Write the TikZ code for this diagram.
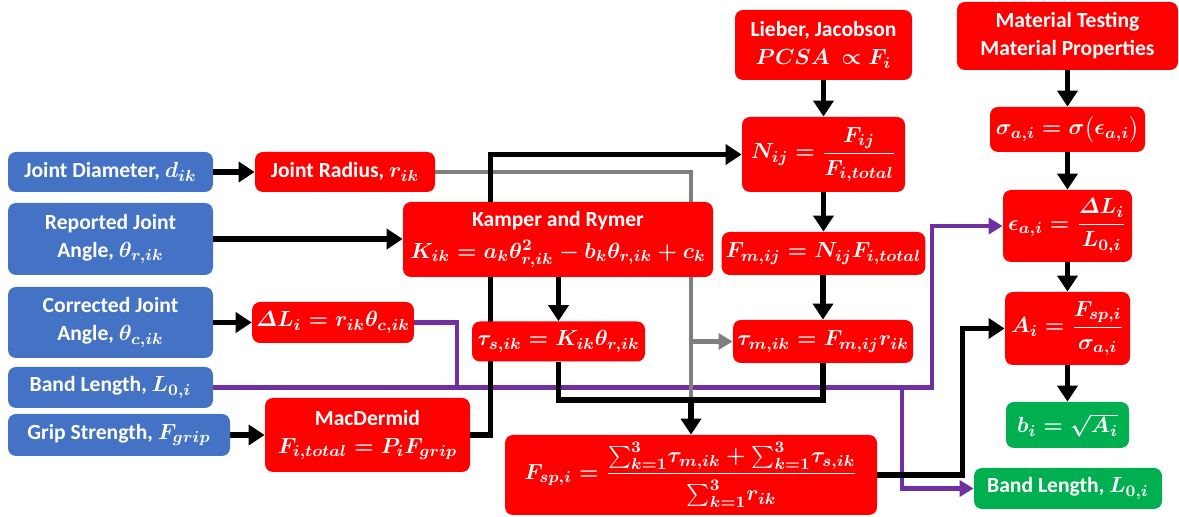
\documentclass[tikz,border=0pt]{standalone}
\usepackage{amsmath}
\usepackage{fontspec}
\newfontfamily\calibri{Carlito}
\usetikzlibrary{arrows.meta,backgrounds}

\definecolor{boxblue}{HTML}{4472C4}
\definecolor{boxred}{HTML}{FF0000}
\definecolor{boxgreen}{HTML}{00B050}
\definecolor{linepurple}{HTML}{7030A0}
\definecolor{linegray}{HTML}{7F7F7F}

\tikzset{
  flowbox/.style={rounded corners=4pt, text=white, align=center, inner sep=2pt,
    font=\calibri\bfseries\fontsize{10.8}{14}\selectfont,
    execute at begin node=\boldmath},
  inbox/.style={flowbox, fill=boxblue},
  calcbox/.style={flowbox, fill=boxred},
  outbox/.style={flowbox, fill=boxgreen},
  blkline/.style={line width=2.8pt, black},
  blkarr/.style={blkline, -{Triangle[length=8pt,width=10pt]}},
  gryline/.style={line width=2.3pt, linegray},
  gryarr/.style={gryline, -{Triangle[length=7pt,width=8pt]}},
  purline/.style={line width=2.3pt, linepurple},
  purarr/.style={purline, -{Triangle[length=7pt,width=8pt]}},
}

\begin{document}
\begin{tikzpicture}[x=0.5pt, y=-0.5pt]

        \useasboundingbox (0,0) rectangle (1179,517);

        % === Inputs (blue) ===
        \node[inbox, minimum width=102.5pt, minimum height=20pt] (jd) at (110.5,172) {Joint Diameter, $d_{ik}$};
        \node[inbox, minimum width=102.5pt, minimum height=36pt] (rja) at (110.5,239) {Reported Joint\\Angle, $\theta_{r,ik}$};
        \node[inbox, minimum width=102.5pt, minimum height=35.5pt] (cja) at (110.5,322.5) {Corrected Joint\\Angle, $\theta_{c,ik}$};
        \node[inbox, minimum width=102.5pt, minimum height=20.5pt] (bl) at (110.5,387.5) {Band Length, $L_{0,i}$};
        \node[inbox, minimum width=111pt, minimum height=21pt] (gs) at (119,435) {Grip Strength, $F_{grip}$};

        % === Joint and spring side ===
        \node[calcbox, minimum width=90pt, minimum height=20pt] (jr) at (345,172) {Joint Radius, $r_{ik}$};
        \node[calcbox, minimum width=155pt, minimum height=37.5pt] (kr) at (558,239.5)
            {Kamper and Rymer\\[2pt]$K_{ik} = a_k\theta_{r,ik}^2 - b_k\theta_{r,ik} + c_k$};
        \node[calcbox, minimum width=80pt, minimum height=20.5pt] (dl) at (333,322.5) {$\varDelta L_i = r_{ik}\theta_{c,ik}$};
        \node[calcbox, minimum width=102.5pt, minimum height=37pt] (md) at (367.5,435)
            {MacDermid\\$F_{i,total} = P_iF_{grip}$};
        \node[calcbox, minimum width=86.5pt, minimum height=20pt] (ts) at (558.5,341.5) {$\tau_{s,ik} = K_{ik}\theta_{r,ik}$};

        % === Muscle side ===
        \node[calcbox, minimum width=88.5pt, minimum height=35pt] (lj) at (823.5,45)
            {Lieber, Jacobson\\$PCSA\ \propto F_i$};
        \node[calcbox, minimum width=81.5pt, minimum height=37.5pt] (nij) at (823.5,154.5) {$N_{ij} = \dfrac{F_{ij}}{F_{i,total}}$};
        \node[calcbox, minimum width=101.5pt, minimum height=21.5pt] (fm) at (823.5,253.5) {$F_{m,ij} = N_{ij}F_{i,total}$};
        \node[calcbox, minimum width=90pt, minimum height=21.5pt] (tm) at (823,341.5) {$\tau_{m,ik} = F_{m,ij}r_{ik}$};
        \node[calcbox, minimum width=186pt, minimum height=40pt] (fsp) at (691,475)
            {$F_{sp,i} = \dfrac{\sum_{k=1}^{3}\!\tau_{m,ik} + \sum_{k=1}^{3}\!\tau_{s,ik}}{\sum_{k=1}^{3}\!r_{ik}\rule{0pt}{12pt}}$};

        % === Material side ===
        \node[calcbox, minimum width=110.5pt, minimum height=34pt] (mt) at (1067.5,36)
            {Material Testing\\Material Properties};
        \node[calcbox, minimum width=77.5pt, minimum height=22.5pt] (sig) at (1067.5,129.5) {$\sigma_{a,i} = \sigma\bigl(\epsilon_{a,i}\bigr)$};
        \node[calcbox, minimum width=64.5pt, minimum height=36pt] (eps) at (1067.5,226) {$\epsilon_{a,i} = \dfrac{\varDelta L_i}{L_{0,i}}$};
        \node[calcbox, minimum width=62.5pt, minimum height=36.5pt] (ai) at (1067.5,328.5) {$A_i = \dfrac{F_{sp,i}}{\sigma_{a,i}}$};

        % === Outputs (green) ===
        \node[outbox, minimum width=61.5pt, minimum height=23pt] (bi) at (1067.5,425) {$b_i = \sqrt{A_i}$};
        \node[outbox, minimum width=94pt, minimum height=20.5pt] (bl2) at (1068,488.5) {Band Length, $L_{0,i}$};

        % junctions
        \coordinate (sumj) at (691,400);
        \coordinate (dlj) at (457,387.5);
        \coordinate (epsj) at (932,226);
        \coordinate (blj) at (902,387.5);

        \begin{pgfonlayer}{background}
        % === Band length and stretch (purple) ===
        \draw[purarr] (bl.east) -| (epsj) -- (eps.west);
        \draw[purline] (dl.east) -| (dlj);
        \draw[purarr] (blj) |- (bl2.west);

        % === Radius (gray) ===
        \draw[gryline] (jr.east) -| (sumj);
        \draw[gryarr] (sumj |- tm.west) -- (tm.west);

        % === Black flow ===
        \draw[blkarr] (jd.east) -- (jr.west);
        \draw[blkarr] (rja.east) -- (kr.west |- rja.east);
        \draw[blkarr] (cja.east) -- (dl.west);
        \draw[blkarr] (gs.east) -- (md.west |- gs.east);
        \draw[blkarr] (md.east) -- ++(20,0) |- (nij.west);
        \draw[blkarr] (kr.south -| ts.north) -- (ts.north);
        \draw[blkarr] (lj.south) -- (nij.north);
        \draw[blkarr] (nij.south) -- (fm.north);
        \draw[blkarr] (fm.south -| tm.north) -- (tm.north);
        \draw[blkline] (ts.south) |- (sumj) -| (tm.south);
        \draw[blkarr] (sumj) -- (fsp.north -| sumj);
        \draw[blkarr] (fsp.east) -- ++(85,0) |- (ai.west);
        \draw[blkarr] (mt.south) -- (sig.north);
        \draw[blkarr] (sig.south) -- (eps.north);
        \draw[blkarr] (eps.south) -- (ai.north);
        \draw[blkarr] (ai.south) -- (bi.north);
        \end{pgfonlayer}

\end{tikzpicture}
\end{document}
